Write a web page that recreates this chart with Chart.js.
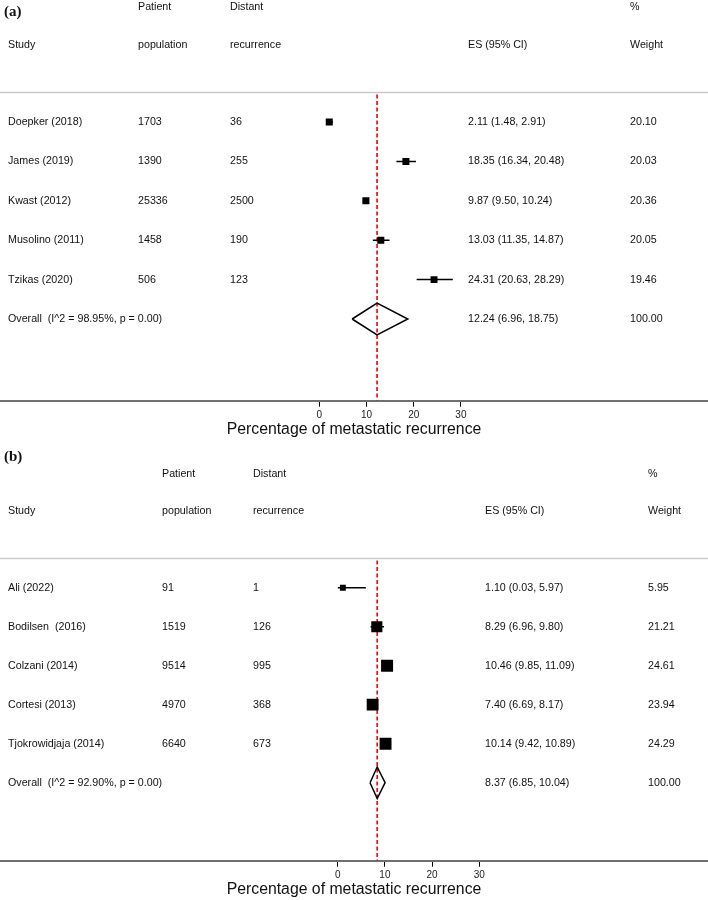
<!DOCTYPE html>
<html>
<head>
<meta charset="utf-8">
<script src="https://cdn.jsdelivr.net/npm/chart.js@4.4.0/dist/chart.umd.min.js"></script>
<style>
  html, body { margin: 0; padding: 0; background: #fff; }
  .panel { position: relative; width: 708px; }
  #pa { height: 440px; }
  #pb { height: 460px; }
</style>
</head>
<body>
<div class="panel" id="pa"><canvas id="chartA"></canvas></div>
<div class="panel" id="pb"><canvas id="chartB"></canvas></div>
<script>
// ---- data, panel (a)
const studiesA = ["Doepker (2018)", "James (2019)", "Kwast (2012)", "Musolino (2011)", "Tzikas (2020)"];
const populationA = [1703, 1390, 25336, 1458, 506];
const recurrenceA = [36, 255, 2500, 190, 123];
const esA = [2.11, 18.35, 9.87, 13.03, 24.31];
const loA = [1.48, 16.34, 9.50, 11.35, 20.63];
const hiA = [2.91, 20.48, 10.24, 14.87, 28.29];
const weightA = [20.10, 20.03, 20.36, 20.05, 19.46];
const overallLabelA = "Overall  (I^2 = 98.95%, p = 0.00)";
const overallA = [12.24, 6.96, 18.75];   // es, lo, hi

// ---- data, panel (b)
const studiesB = ["Ali (2022)", "Bodilsen  (2016)", "Colzani (2014)", "Cortesi (2013)", "Tjokrowidjaja (2014)"];
const populationB = [91, 1519, 9514, 4970, 6640];
const recurrenceB = [1, 126, 995, 368, 673];
const esB = [1.10, 8.29, 10.46, 7.40, 10.14];
const loB = [0.03, 6.96, 9.85, 6.69, 9.42];
const hiB = [5.97, 9.80, 11.09, 8.17, 10.89];
const weightB = [5.95, 21.21, 24.61, 23.94, 24.29];
const overallLabelB = "Overall  (I^2 = 92.90%, p = 0.00)";
const overallB = [8.37, 6.85, 10.04];

const xTicks = [0, 10, 20, 30];
const headerTop = ["", "Patient", "Distant", "", "%"];
const headerBottom = ["Study", "population", "recurrence", "ES (95% CI)", "Weight"];
const axisTitle = "Percentage of metastatic recurrence";

const FONT = '"Liberation Sans", Arial, Helvetica, sans-serif';
const W = 708;

// draws the text table, the header rule and the axis title
const tablePlugin = {
  id: "table",
  afterDraw(chart, args, o) {
    const { ctx, chartArea, scales: { x, y } } = chart;
    const d = o.d, lay = o.lay;
    const cols = lay.cols;
    ctx.save();
    ctx.fillStyle = "#111";
    ctx.textBaseline = "middle";
    ctx.textAlign = "left";
    ctx.font = "10.7px " + FONT;
    const h1 = y.getPixelForValue(-2.92), h2 = y.getPixelForValue(-1.96);
    headerTop.forEach((t, i) => { if (t) ctx.fillText(t, cols[i], h1); });
    headerBottom.forEach((t, i) => ctx.fillText(t, cols[i], h2));

    d.studies.forEach((s, i) => {
      const py = y.getPixelForValue(i);
      ctx.fillText(s, cols[0], py);
      ctx.fillText(String(d.pop[i]), cols[1], py);
      ctx.fillText(String(d.rec[i]), cols[2], py);
      ctx.fillText(d.es[i].toFixed(2) + " (" + d.lo[i].toFixed(2) + ", " + d.hi[i].toFixed(2) + ")", cols[3], py);
      ctx.fillText(d.weight[i].toFixed(2), cols[4], py);
    });
    const n = d.studies.length;
    const po = y.getPixelForValue(n);
    ctx.fillText(d.overallLabel, cols[0], po);
    ctx.fillText(d.overall[0].toFixed(2) + " (" + d.overall[1].toFixed(2) + ", " + d.overall[2].toFixed(2) + ")", cols[3], po);
    ctx.fillText("100.00", cols[4], po);

    // rule under the header
    const ry = Math.round(y.getPixelForValue(-0.76)) + 0.5;
    ctx.strokeStyle = "#c9c9c9";
    ctx.lineWidth = 1.3;
    ctx.beginPath(); ctx.moveTo(0, ry); ctx.lineTo(W, ry); ctx.stroke();

    // axis title
    ctx.font = "15.8px " + FONT;
    ctx.textAlign = "center";
    ctx.fillText(axisTitle, W / 2, chartArea.bottom + 28.5);

    // panel letter
    ctx.font = "bold 15px 'Liberation Serif', 'Times New Roman', serif";
    ctx.textAlign = "left";
    ctx.fillText(lay.letter, 4, lay.letterY);
    ctx.restore();
  }
};

function forest(id, d, lay) {
  const H = lay.height;
  const xmin = -lay.zero / lay.ppu, xmax = (W - lay.zero) / lay.ppu;
  const ymin = -lay.row0 / lay.step, ymax = (lay.axis - lay.row0) / lay.step;
  const n = d.studies.length;
  const [oe, ol, oh] = d.overall;
  const dh = 0.405;

  const datasets = [];
  // dashed reference line at the pooled estimate
  datasets.push({
    data: [{ x: oe, y: -0.7 }, { x: oe, y: ymax }],
    showLine: true, borderColor: "#e3101a", borderWidth: 1.7, borderDash: [4, 2.5],
    pointRadius: 0, order: 5
  });
  // confidence intervals
  d.es.forEach((v, i) => datasets.push({
    data: [{ x: d.lo[i], y: i }, { x: d.hi[i], y: i }],
    showLine: true, borderColor: "#000", borderWidth: 1.5, pointRadius: 0, order: 2
  }));
  // weighted squares
  datasets.push({
    data: d.es.map((v, i) => ({ x: v, y: i })),
    pointStyle: "rect",
    pointRadius: d.weight.map(w => lay.k * Math.sqrt(w) / Math.SQRT2),
    backgroundColor: "#000", borderColor: "#000", borderWidth: 0, order: 1
  });
  // pooled diamond
  datasets.push({
    data: [{ x: ol, y: n }, { x: oe, y: n - dh }, { x: oh, y: n }, { x: oe, y: n + dh }, { x: ol, y: n }],
    showLine: true, borderColor: "#000", borderWidth: 1.5, pointRadius: 0, fill: false, tension: 0, order: 0
  });

  return new Chart(document.getElementById(id), {
    type: "scatter",
    data: { datasets },
    plugins: [tablePlugin],
    options: {
      responsive: true,
      maintainAspectRatio: false,
      animation: false,
      events: [],
      layout: { padding: 0, autoPadding: false },
      plugins: {
        legend: { display: false },
        tooltip: { enabled: false },
        table: { d, lay }
      },
      scales: {
        x: {
          type: "linear", min: xmin, max: xmax, position: "bottom",
          afterBuildTicks: s => { s.ticks = xTicks.map(v => ({ value: v })); },
          afterFit: s => { s.height = H - lay.axis; },
          grid: { drawOnChartArea: false, drawTicks: true, tickLength: 6, color: "#000", lineWidth: 1 },
          border: { display: true, color: "#707070", width: 2 },
          ticks: { font: { family: FONT, size: 10 }, color: "#222", padding: 3, maxRotation: 0, autoSkip: false }
        },
        y: { type: "linear", min: ymin, max: ymax, reverse: true, display: false }
      }
    }
  });
}

forest("chartA",
  { studies: studiesA, pop: populationA, rec: recurrenceA, es: esA, lo: loA, hi: hiA, weight: weightA,
    overallLabel: overallLabelA, overall: overallA },
  { height: 440, zero: 319.3, ppu: 4.72, row0: 122, step: 39.4, axis: 400.7, k: 1.57,
    cols: [8, 138, 230, 468, 630], letter: "(a)", letterY: 12 });

forest("chartB",
  { studies: studiesB, pop: populationB, rec: recurrenceB, es: esB, lo: loB, hi: hiB, weight: weightB,
    overallLabel: overallLabelB, overall: overallB },
  { height: 460, zero: 337.7, ppu: 4.72, row0: 147.7, step: 39, axis: 420.7, k: 2.42,
    cols: [8, 162, 253, 485, 648], letter: "(b)", letterY: 17 });
</script>
</body>
</html>
